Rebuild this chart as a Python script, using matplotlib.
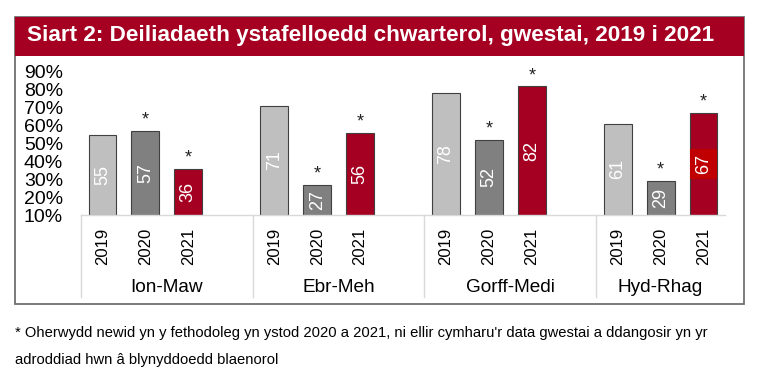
import matplotlib.pyplot as plt
from matplotlib.patches import Rectangle
from matplotlib.lines import Line2D
import matplotlib.transforms as mtransforms

plt.rcParams['font.family'] = ['Liberation Sans', 'DejaVu Sans']

quarters = ['Ion-Maw', 'Ebr-Meh', 'Gorff-Medi', 'Hyd-Rhag']
years = ['2019', '2020', '2021']
occ_2019 = [55, 71, 78, 61]
occ_2020 = [57, 27, 52, 29]
occ_2021 = [36, 56, 82, 67]
starred = ['2020', '2021']

colors = {'2019': '#BFBFBF', '2020': '#808080', '2021': '#A50021'}
series = {'2019': occ_2019, '2020': occ_2020, '2021': occ_2021}

W, H = 761, 379
fig = plt.figure(figsize=(W / 100, H / 100), dpi=100)


def fx(px):
    return px / W


def fy(py):
    return 1 - py / H


# outer frame + title band
fig.patches.append(Rectangle((fx(15), fy(304)), fx(744) - fx(15), fy(17) - fy(304),
                             transform=fig.transFigure, fill=False,
                             edgecolor='#6F6F6F', linewidth=1.3))
fig.patches.append(Rectangle((fx(15), fy(56)), fx(744) - fx(15), fy(17) - fy(56),
                             transform=fig.transFigure, facecolor='#A50021',
                             edgecolor='none'))
fig.text(fx(27), fy(36), 'Siart 2: Deiliadaeth ystafelloedd chwarterol, gwestai, 2019 i 2021',
         color='white', fontsize=16.2, fontweight='bold', va='center', ha='left')

ax = fig.add_axes([fx(81), fy(215), fx(725) - fx(81), fy(72) - fy(215)])
ax.set_xlim(0, 15)
ax.set_ylim(10, 90)

for g, q in enumerate(quarters):
    for j, y in enumerate(years):
        x = 4 * g + j + 0.5
        v = series[y][g]
        ax.bar(x, v - 10, bottom=10, width=0.65, color=colors[y],
               edgecolor='#404040', linewidth=0.8)
        bbox = None
        if q == 'Hyd-Rhag' and y == '2021':
            bbox = dict(boxstyle='square,pad=0.3', facecolor='#C00000', edgecolor='none')
        ax.text(x, (v + 10) / 2, str(v), rotation=90, ha='center', va='center',
                color='white', fontsize=13, bbox=bbox)
        if y in starred:
            ax.text(x, v + 1.2, '*', ha='center', va='bottom', fontsize=13,
                    color='#222222')

ax.set_yticks(range(10, 91, 10))
ax.set_yticklabels([f'{t}%' for t in range(10, 91, 10)], fontsize=14)
ax.tick_params(axis='y', length=0, pad=13)
ax.set_xticks([])
for s in ['top', 'right', 'left']:
    ax.spines[s].set_visible(False)
ax.spines['bottom'].set_color('#D9D9D9')
ax.spines['bottom'].set_linewidth(1)

# category axis labels below the plot
trans = mtransforms.blended_transform_factory(ax.transData, fig.transFigure)
for g, q in enumerate(quarters):
    for j, y in enumerate(years):
        ax.text(4 * g + j + 0.5, fy(246), y, rotation=90, ha='center', va='center',
                fontsize=12, transform=trans)
    centre = 4 * g + 2 if g < 3 else 13.5
    ax.text(centre, fy(287), q, ha='center', va='center', fontsize=13.7, transform=trans)

for xb in [0, 4, 8, 12]:
    ax.add_line(Line2D([xb, xb], [fy(215), fy(297)], transform=trans,
                       color='#D9D9D9', linewidth=1, clip_on=False))

fig.text(fx(15), fy(333),
         "* Oherwydd newid yn y fethodoleg yn ystod 2020 a 2021, ni ellir cymharu'r data gwestai a ddangosir yn yr",
         fontsize=10.6, va='center', ha='left')
fig.text(fx(15), fy(360), "adroddiad hwn â blynyddoedd blaenorol",
         fontsize=10.6, va='center', ha='left')

fig.savefig('out.png', dpi=100)
